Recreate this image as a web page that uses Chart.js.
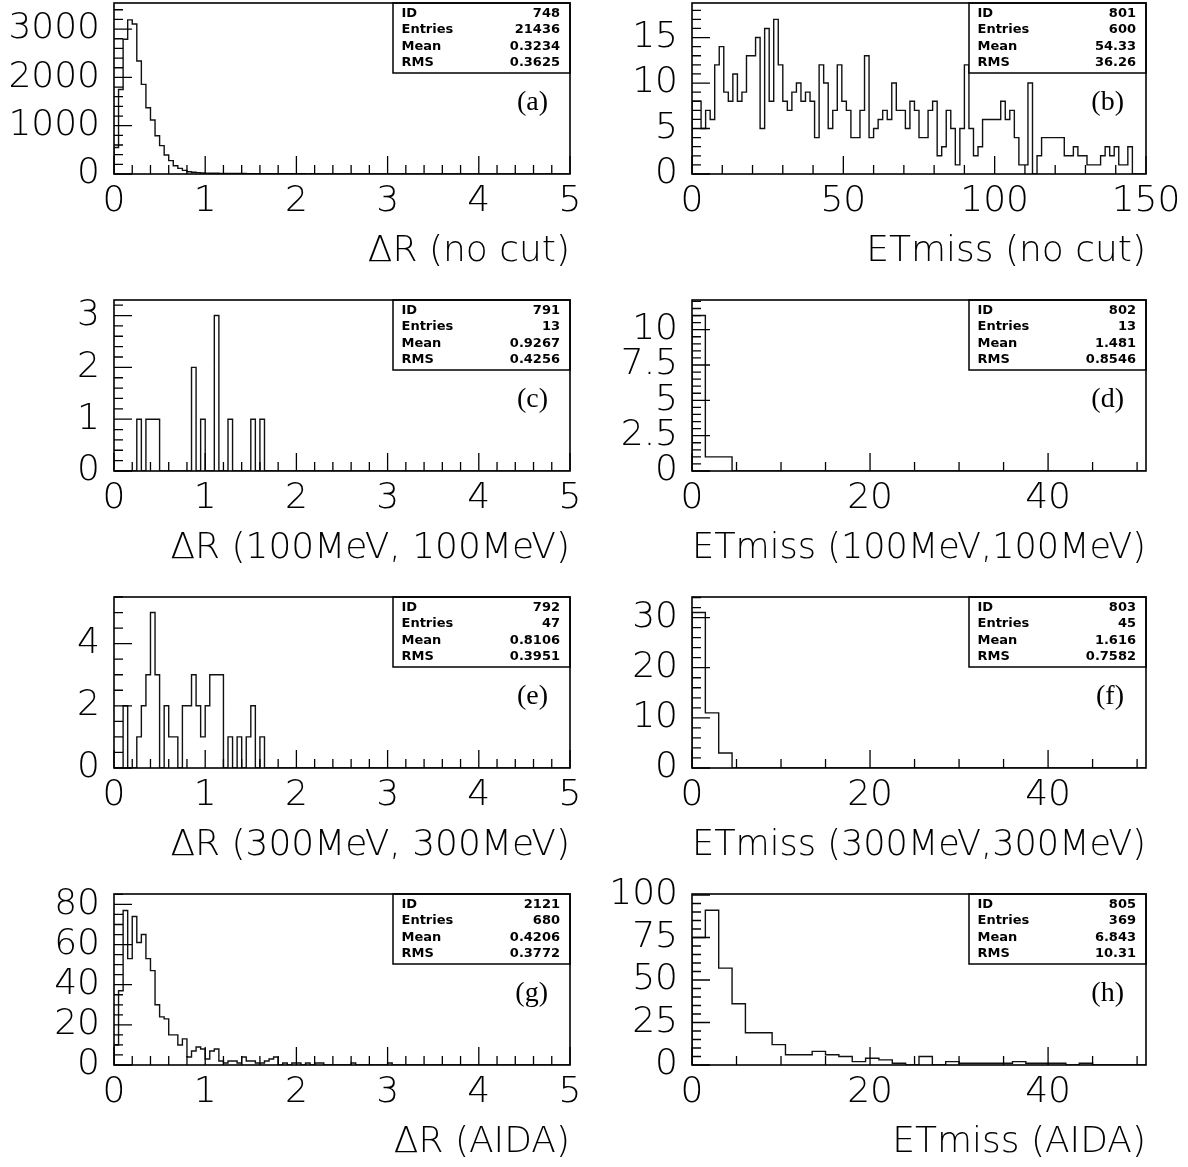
<!DOCTYPE html>
<html><head><meta charset="utf-8">
<script src="https://cdn.jsdelivr.net/npm/chart.js@4.4.1/dist/chart.umd.min.js"></script>
<style>
html,body{margin:0;padding:0;background:#fff;}
#wrap{position:relative;width:1188px;height:1167px;overflow:hidden;background:#fff;}
canvas.pn{position:absolute;}
</style></head><body><div id="wrap"></div>
<script>
// ---------------- DATA ----------------
// (a) dR no cut: 100 bins of 0.05 on [0,5]
const countsA = [550,1750,2790,3190,3105,2340,1855,1373,1118,793,
 587,393,276,172,117,76,48,35,28,20,
 18,16,15,13,12,12,10,9,9,8,
 8,7,6,7,5,6,5,5,4,5,
 4,4,3,4,3,3,2,3,2,3,
 2,2,3,2,2,1,2,2,1,2,
 1,2,1,1,2,1,1,0,1,1,
 0,1,0,1,0,0,1,0,0,0,
 0,0,0,0,0,0,0,0,0,0,
 0,0,0,0,0,0,0,0,0,0];
// (b) ETmiss no cut: 100 bins of 1.5 on [0,150]
const countsB = [8,8,5,7,6,12,14,9,8,11,
 8,9,13,13,15,5,16,8,17,12,
 8,7,9,10,8,9,8,4,12,10,
 5,7,12,8,7,4,4,7,13,4,
 5,6,7,6,10,7,7,5,8,7,
 4,4,7,8,2,3,7,5,1,5,
 12,5,2,3,6,6,6,6,8,6,
 7,4,1,1,10,0,2,4,4,4,
 4,4,2,2,3,2,2,1,1,1,
 2,3,2,3,1,1,3,0,0,0];
// (c) dR (100MeV,100MeV)
const countsC = [0,0,0,0,0,1,0,1,1,1,
 0,0,0,0,0,0,0,2,0,1,
 0,0,3,0,0,1,0,0,0,0,
 1,0,1,0,0,0,0,0,0,0,
 0,0,0,0,0,0,0,0,0,0,
 0,0,0,0,0,0,0,0,0,0,
 0,0,0,0,0,0,0,0,0,0,
 0,0,0,0,0,0,0,0,0,0,
 0,0,0,0,0,0,0,0,0,0,
 0,0,0,0,0,0,0,0,0,0];
// (d) ETmiss (100MeV,100MeV): 34 bins of 1.5 on [0,51]
const countsD = [11,1,1,0,0,0,0,0,0,0,0,0,0,0,0,0,0,0,0,0,0,0,0,0,0,0,0,0,0,0,0,0,0,0];
// (e) dR (300MeV,300MeV)
const countsE = [0,0,2,0,0,1,2,3,5,3,
 0,2,1,1,0,2,2,3,2,1,
 2,3,3,3,0,1,0,1,0,1,
 2,0,1,0,0,0,0,0,0,0,
 0,0,0,0,0,0,0,0,0,0,
 0,0,0,0,0,0,0,0,0,0,
 0,0,0,0,0,0,0,0,0,0,
 0,0,0,0,0,0,0,0,0,0,
 0,0,0,0,0,0,0,0,0,0,
 0,0,0,0,0,0,0,0,0,0];
// (f) ETmiss (300MeV,300MeV)
const countsF = [31,11,3,0,0,0,0,0,0,0,0,0,0,0,0,0,0,0,0,0,0,0,0,0,0,0,0,0,0,0,0,0,0,0];
// (g) dR (AIDA)
const countsG = [10,37,77,53,74,61,65,53,47,30,
 24,23,15,15,10,13,4,7,9,8,
 3,7,8,2,1,2,2,1,4,2,
 2,1,1,2,3,4,0,1,0,1,
 1,0,1,0,1,1,0,0,0,0,
 0,0,1,0,0,0,0,0,0,0,
 1,0,0,0,0,0,0,0,0,0,
 0,0,0,0,0,0,0,0,0,0,
 0,0,0,0,0,0,0,0,0,0,
 0,0,0,0,0,0,0,0,0,0];
// (h) ETmiss (AIDA)
const countsH = [75,91,57,36,19,19,12,6,6,8,6,5,2,4,3,1,0,5,0,2,1,1,1,1,2,1,1,1,0,1,0,0,0,0];

const xTicksDR = [0,1,2,3,4,5];
const xTicksETb = [0,50,100,150];
const xTicksET = [0,20,40];
const yTicksA = [0,1000,2000,3000];
const yTicksB = [0,5,10,15];
const yTicksC = [0,1,2,3];
const yTicksD = [0,2.5,5,7.5,10];
const yTicksE = [0,2,4];
const yTicksF = [0,10,20,30];
const yTicksG = [0,20,40,60,80];
const yTicksH = [0,25,50,75,100];

const statNames = ['ID','Entries','Mean','RMS'];
const statsA = ['748','21436','0.3234','0.3625'];
const statsB = ['801','600','54.33','36.26'];
const statsC = ['791','13','0.9267','0.4256'];
const statsD = ['802','13','1.481','0.8546'];
const statsE = ['792','47','0.8106','0.3951'];
const statsF = ['803','45','1.616','0.7582'];
const statsG = ['2121','680','0.4206','0.3772'];
const statsH = ['805','369','6.843','10.31'];

const titles = ['ΔR (no cut)','ETmiss (no cut)','ΔR (100MeV, 100MeV)','ETmiss (100MeV,100MeV)',
  'ΔR (300MeV, 300MeV)','ETmiss (300MeV,300MeV)','ΔR (AIDA)','ETmiss (AIDA)'];
const panelLabels = ['(a)','(b)','(c)','(d)','(e)','(f)','(g)','(h)'];

// ---------------- PANELS ----------------
const DR = {xMin:0, xMax:5, binW:0.05, xTicks:xTicksDR, xMinor:0.2};
const ETB = {xMin:0, xMax:150, binW:1.5, xTicks:xTicksETb, xMinor:10};
const ET = {xMin:0, xMax:51, binW:1.5, xTicks:xTicksET, xMinor:5};
const panels = [
  Object.assign({counts:countsA, yMax:3540, yTicks:yTicksA, yMinor:200, stats:statsA}, DR),
  Object.assign({counts:countsB, yMax:18.8, yTicks:yTicksB, yMinor:1, stats:statsB}, ETB),
  Object.assign({counts:countsC, yMax:3.3, yTicks:yTicksC, yMinor:0.2, stats:statsC}, DR),
  Object.assign({counts:countsD, yMax:12.1, yTicks:yTicksD, yMinor:0.5, stats:statsD}, ET),
  Object.assign({counts:countsE, yMax:5.5, yTicks:yTicksE, yMinor:0.5, stats:statsE}, DR),
  Object.assign({counts:countsF, yMax:34.1, yTicks:yTicksF, yMinor:2, stats:statsF}, ET),
  Object.assign({counts:countsG, yMax:85.2, yTicks:yTicksG, yMinor:5, stats:statsG}, DR),
  Object.assign({counts:countsH, yMax:100.6, yTicks:yTicksH, yMinor:5, stats:statsH}, ET)
];

const FONT = 'DejaVu Sans';
const CW = 594, CH = 317, PADTOP = 23, XAXH = 123;

function outline(counts, xMin, binW) {
  const pts = [{x: xMin, y: 0}];
  for (let i = 0; i < counts.length; i++) {
    pts.push({x: xMin + i * binW, y: counts[i]});
    pts.push({x: xMin + (i + 1) * binW, y: counts[i]});
  }
  pts.push({x: xMin + counts.length * binW, y: 0});
  return pts;
}

function near(list, v) { return list.some(t => Math.abs(t - v) < 1e-6); }

function decor(p, idx) {
  return {
    id: 'decor' + idx,
    afterDatasetsDraw(chart) {
      const ctx = chart.ctx, a = chart.chartArea, xs = chart.scales.x, ys = chart.scales.y;
      ctx.save();
      ctx.strokeStyle = '#000';
      ctx.lineWidth = 1.3;
      ctx.beginPath();
      for (let k = 0; ; k++) {
        const v = p.xMin + k * p.xMinor;
        if (v > p.xMax + 1e-9) break;
        const px = xs.getPixelForValue(v);
        const len = near(p.xTicks, v) ? 18 : 9;
        ctx.moveTo(px, a.bottom); ctx.lineTo(px, a.bottom - len);
      }
      for (let k = 0; ; k++) {
        const v = k * p.yMinor;
        if (v > p.yMax + 1e-9) break;
        const py = ys.getPixelForValue(v);
        const len = near(p.yTicks, v) ? 18 : 9;
        ctx.moveTo(a.left, py); ctx.lineTo(a.left + len, py);
      }
      ctx.stroke();
      // stats box
      const bw = 177, bh = 70;
      const bx = a.right - bw, by = a.top;
      ctx.fillStyle = '#fff';
      ctx.fillRect(bx, by, bw, bh);
      ctx.lineWidth = 1.5;
      ctx.strokeRect(bx, by, bw, bh);
      ctx.fillStyle = '#000';
      ctx.font = 'bold 13px "' + FONT + '"';
      ctx.textBaseline = 'middle';
      const rowsY = [10.5, 27, 43.5, 60];
      for (let r = 0; r < 4; r++) {
        ctx.textAlign = 'left';
        ctx.fillText(statNames[r], bx + 8.5, by + rowsY[r]);
        ctx.textAlign = 'right';
        ctx.fillText(p.stats[r], a.right - 10, by + rowsY[r]);
      }
      // panel label
      ctx.font = '28px "Liberation Serif"';
      ctx.textAlign = 'right';
      ctx.textBaseline = 'middle';
      ctx.fillText(panelLabels[idx], a.right - 22, a.top + 100);
      // frame
      ctx.lineWidth = 1.6;
      ctx.strokeRect(a.left, a.top, a.right - a.left, a.bottom - a.top);
      ctx.restore();
    }
  };
}

const wrap = document.getElementById('wrap');
panels.forEach((p, idx) => {
  const col = idx % 2, row = Math.floor(idx / 2);
  const cv = document.createElement('canvas');
  cv.className = 'pn';
  cv.width = CW; cv.height = CH;
  cv.style.left = (col * 594) + 'px';
  cv.style.top = (row * 297 - 20) + 'px';
  cv.style.width = CW + 'px'; cv.style.height = CH + 'px';
  wrap.appendChild(cv);
  const yW = col === 0 ? 114 : 98;
  const padR = col === 0 ? 24 : 42;
  const tickFont = {family: FONT, size: 36, weight: '200'};
  new Chart(cv, {
    type: 'line',
    data: {datasets: [{
      data: outline(p.counts, p.xMin, p.binW),
      borderColor: '#111', borderWidth: 1.4, pointRadius: 0, fill: false, tension: 0
    }]},
    options: {
      responsive: false, animation: false, devicePixelRatio: 1,
      layout: {padding: {top: PADTOP, left: 0, right: padR, bottom: 0}},
      plugins: {legend: {display: false}, tooltip: {enabled: false}},
      events: [],
      scales: {
        x: {
          type: 'linear', min: p.xMin, max: p.xMax, position: 'bottom',
          grid: {display: false, drawTicks: false}, border: {display: false},
          ticks: {font: tickFont, color: '#000', padding: 6, autoSkip: false, maxRotation: 0,
                  callback: v => String(v)},
          afterBuildTicks: s => { s.ticks = p.xTicks.map(v => ({value: v})); },
          afterFit: s => { s.height = XAXH; s.paddingLeft = 0; s.paddingRight = 0; s.paddingTop = 0; s.paddingBottom = 0; },
          title: {display: true, text: titles[idx], align: 'end', color: '#000',
                  font: {family: FONT, size: 36, weight: '200'}, padding: {top: 0, bottom: 24}}
        },
        y: {
          type: 'linear', min: 0, max: p.yMax,
          grid: {display: false, drawTicks: false}, border: {display: false},
          ticks: {font: tickFont, color: '#000', padding: 14, autoSkip: false,
                  callback: v => String(v)},
          afterBuildTicks: s => { s.ticks = p.yTicks.map(v => ({value: v})); },
          afterFit: s => { s.width = yW; s.paddingLeft = 0; s.paddingRight = 0; s.paddingTop = 0; s.paddingBottom = 0; }
        }
      }
    },
    plugins: [decor(p, idx)]
  });
});
</script>
</body></html>
